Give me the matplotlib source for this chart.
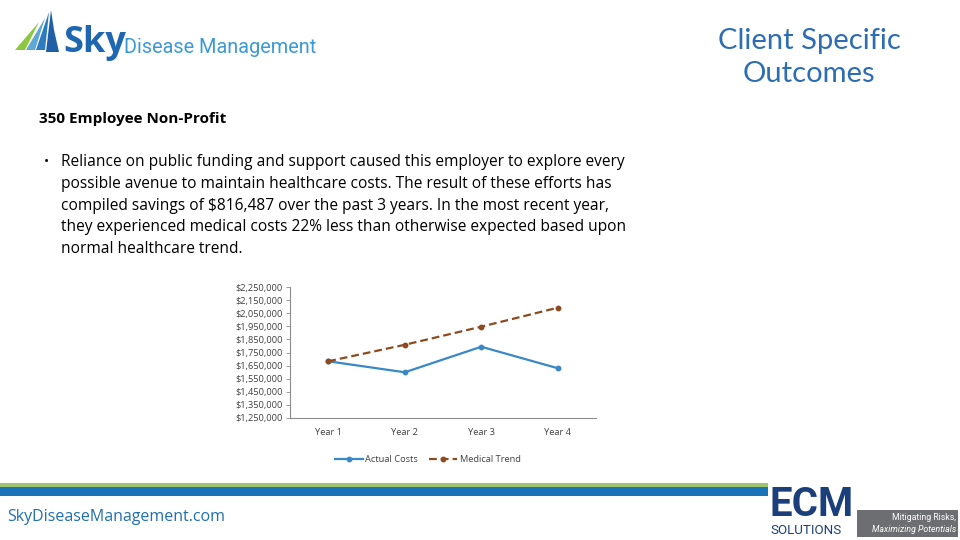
import matplotlib
matplotlib.use('Agg')
import matplotlib.pyplot as plt
import numpy as np
from matplotlib.patches import Polygon, Rectangle
from matplotlib.ticker import FuncFormatter

# chart data
years = ['Year 1', 'Year 2', 'Year 3', 'Year 4']
actual_costs = [1683000, 1599000, 1794000, 1630000]
medical_trend = [1683000, 1809000, 1947000, 2092000]
y_ticks = np.arange(1250000, 2250001, 100000)

title_lines = ['Client Specific', 'Outcomes']
heading = '350 Employee Non-Profit'
bullet_lines = [
    'Reliance on public funding and support caused this employer to explore every',
    'possible avenue to maintain healthcare costs. The result of these efforts has',
    'compiled savings of $816,487 over the past 3 years. In the most recent year,',
    'they experienced medical costs 22% less than otherwise expected based upon',
    'normal healthcare trend.',
]
footer_url = 'SkyDiseaseManagement.com'

W, H = 960, 540
BLUE = '#2C6DB3'
LINE_BLUE = '#3A88C6'
TREND_BROWN = '#8E4A1E'


def px(x, y):
    """pixel (from top-left) -> figure fraction"""
    return x / W, 1 - y / H


fig = plt.figure(figsize=(W / 100, H / 100), dpi=100)
fig.patch.set_facecolor('white')

# --- Sky logo mark ---
mark = [
    ([(15, 50), (39, 22), (25, 50)], '#8DC63F'),
    ([(26, 50), (45, 18), (35, 50)], '#5FA8D3'),
    ([(36, 50), (49, 12), (45, 50)], '#2C7BC0'),
    ([(46, 52), (51, 10), (54, 30), (59, 52)], '#1F5FA8'),
]
for pts, col in mark:
    fig.patches.append(Polygon([px(*p) for p in pts], closed=True,
                               transform=fig.transFigure, color=col, lw=0))
fig.text(*px(63, 52), 'Sky', fontsize=26, fontweight='bold', color='#1F66B1',
         family='Open Sans', va='baseline')
fig.text(*px(124, 53), 'Disease Management', fontsize=14.3, color='#3A9AD6',
         family='Roboto', va='baseline')

# --- title ---
for i, line in enumerate(title_lines):
    fig.text(*px(809, 41 + 33 * i), line, fontsize=21, color=BLUE,
             family='Lato', ha='center', va='center')

# --- body text ---
fig.text(*px(39, 119), heading, fontsize=11, fontweight='bold',
         family='Open Sans', va='center')
fig.text(*px(44, 162), '\u2022', fontsize=10, family='Open Sans', va='center')
for i, line in enumerate(bullet_lines):
    fig.text(*px(61, 162 + 21.8 * i), line, fontsize=11.2, family='Open Sans',
             va='center')

# --- chart ---
l, t, r, b = 290, 287, 596, 418
ax = fig.add_axes([l / W, 1 - b / H, (r - l) / W, (b - t) / H])
x = range(len(years))
ax.plot(x, actual_costs, color=LINE_BLUE, lw=1.6, marker='o', ms=3.2,
        label='Actual Costs')
ax.plot(x, medical_trend, color=TREND_BROWN, lw=1.6, ls=(0, (3.5, 1.8)),
        marker='o', ms=3.2, label='Medical Trend')
ax.set_xlim(-0.5, len(years) - 0.5)
ax.set_ylim(y_ticks[0], y_ticks[-1])
ax.set_yticks(y_ticks)
ax.yaxis.set_major_formatter(FuncFormatter(lambda v, p: f'${v:,.0f}'))
ax.set_xticks(list(x))
ax.set_xticklabels(years)
for s in ['top', 'right']:
    ax.spines[s].set_visible(False)
for s in ['left', 'bottom']:
    ax.spines[s].set_color('#8C8C8C')
    ax.spines[s].set_linewidth(0.8)
ax.tick_params(axis='y', length=3, width=0.6, color='#8C8C8C', pad=2,
               labelsize=6.7, labelcolor='#404040')
ax.tick_params(axis='x', length=0, pad=7, labelsize=6.7, labelcolor='#404040')
for lab in ax.get_xticklabels() + ax.get_yticklabels():
    lab.set_family('Open Sans')
ax.legend(loc='center', bbox_to_anchor=(0.45, -0.32), ncol=2, frameon=False,
          prop={'family': 'Open Sans', 'size': 6.7}, handlelength=3,
          columnspacing=1.2, handletextpad=0.3, labelcolor='#404040')

# --- footer bands ---
fig.patches.append(Rectangle(px(0, 487), 768 / W, 4.5 / H,
                             transform=fig.transFigure, color='#9DC46C', lw=0))
fig.patches.append(Rectangle(px(0, 496), 768 / W, 9 / H,
                             transform=fig.transFigure, color='#1A73B8', lw=0))
fig.text(*px(7, 517), footer_url, fontsize=11.5, color='#1F6FB0',
         family='Open Sans', va='center')

# --- ECM logo ---
fig.text(*px(769, 516), 'ECM', fontsize=29, fontweight='bold', color='#1B3F7A',
         family='Roboto', va='baseline')
fig.text(*px(770, 530), 'SOLUTIONS', fontsize=9.6, color='#1B3F7A',
         family='Roboto', va='center')
fig.patches.append(Rectangle(px(857, 537), 101 / W, 27 / H,
                             transform=fig.transFigure, color='#6D6E71', lw=0))
fig.text(*px(956, 518), 'Mitigating Risks,', fontsize=6.3, color='white',
         family='Roboto', ha='right', va='center')
fig.text(*px(956, 529), 'Maximizing Potentials', fontsize=6.3, color='white',
         family='Roboto', ha='right', va='center', style='italic')

fig.savefig('out.png', dpi=100)
